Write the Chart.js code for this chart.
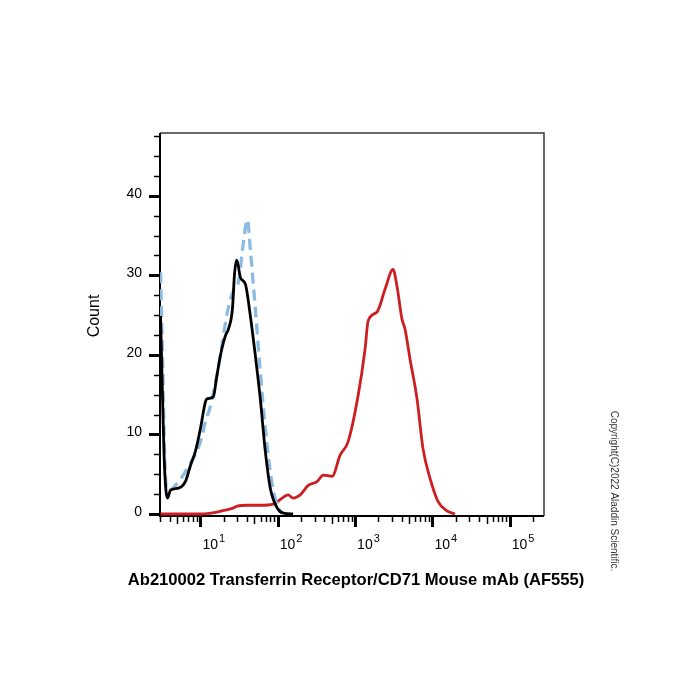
<!DOCTYPE html>
<html>
<head>
<meta charset="utf-8">
<script src="https://cdn.jsdelivr.net/npm/chart.js@4.4.1/dist/chart.umd.min.js"></script>
<style>
  html, body { margin: 0; padding: 0; background: #fff; }
  #wrap { width: 700px; height: 700px; }
</style>
</head>
<body>
<div id="wrap"><canvas id="histChart" width="700" height="700"></canvas></div>
<script>
// fluorescence intensity (x) and count (y)
const blackX = [3.05, 3.23, 3.43, 3.75, 4.10, 5.20, 6.40, 7.43, 8.62, 10, 11.6, 12.3, 14.7, 16.1, 18.1, 21.0, 23.0, 25.9, 27.6, 29.2, 30.6, 32.8, 38.1, 44.2, 51.3, 59.4, 69.0, 80.0, 98.6, 118, 158];
const blackY = [24.9, 15, 6, 2, 3.0, 3.25, 4.1, 6.1, 7.9, 10.75, 14.1, 14.5, 14.75, 17, 19.9, 22.4, 23.25, 25.75, 30.2, 31.9, 31.4, 29.75, 28.9, 24.9, 19.9, 14.5, 7.9, 3.25, 0.75, 0.1, 0];

const blueX = [3.05, 3.23, 3.43, 3.64, 3.87, 4.75, 6.79, 10, 11.6, 13.5, 18.1, 22.3, 28.3, 30.9, 35.9, 40.4, 44.2, 51.3, 59.4, 69.0, 84.9, 98.6, 114];
const blueY = [30.4, 20, 8, 3.2, 2.9, 3.6, 5.75, 9.1, 11.6, 13.6, 19.9, 25.4, 28.6, 29.1, 34.1, 37, 33.25, 25.75, 17.9, 10.75, 3.6, 1.1, 0];

const redX = [3.05, 10, 15.6, 21.0, 25.9, 30.0, 40.4, 59.4, 87.5, 114, 136, 158, 195, 248, 324, 387, 505, 640, 812, 1094, 1346, 1472, 1923, 2438, 3090, 3483, 4038, 4416, 5124, 6310, 7540, 9290, 11780, 15380, 19500];
const redY = [0, 0, 0.2, 0.5, 0.7, 1.0, 1.1, 1.1, 1.25, 2.0, 2.4, 2.0, 2.4, 3.6, 4.1, 4.9, 4.75, 7.4, 9.1, 14.9, 20.75, 24.25, 25.4, 28.25, 30.75, 28.6, 24.5, 23.25, 19.5, 14.5, 8.25, 4.5, 1.6, 0.4, 0];

// axis ticks
const xMajor = [10, 100, 1000, 10000, 100000];
const xMajorExp = ['1', '2', '3', '4', '5'];
const yMajor = [0, 10, 20, 30, 40];
const yMinorStep = 2.5;

const xTitle = 'Ab210002 Transferrin Receptor/CD71 Mouse mAb (AF555)';
const yTitle = 'Count';
const copyright = 'Copyright(C)2022 Aladdin Scientific.';

function toPoints(xs, ys) {
    return xs.map(function(x, i) { return { x: x, y: ys[i] }; });
}

const axesPlugin = {
    id: 'flowAxes',
    beforeDatasetsDraw: function(chart) {
        const ctx = chart.ctx;
        const a = chart.chartArea;
        ctx.save();
        ctx.strokeStyle = '#3a3a3a';
        ctx.lineWidth = 1.5;
        ctx.beginPath();
        ctx.moveTo(a.left, a.top);
        ctx.lineTo(a.right, a.top);
        ctx.lineTo(a.right, a.bottom);
        ctx.stroke();
        ctx.strokeStyle = '#000';
        ctx.lineWidth = 2;
        ctx.beginPath();
        ctx.moveTo(a.left, a.top);
        ctx.lineTo(a.left, a.bottom);
        ctx.lineTo(a.right, a.bottom);
        ctx.stroke();
        ctx.restore();
    },
    afterDraw: function(chart) {
        const ctx = chart.ctx;
        const a = chart.chartArea;
        const xs = chart.scales.x;
        const ys = chart.scales.y;
        ctx.save();
        ctx.strokeStyle = '#000';
        ctx.fillStyle = '#000';

        // y ticks
        for (let v = 0; v <= ys.max; v += yMinorStep) {
            const py = Math.round(ys.getPixelForValue(v)) + 0.5;
            const major = yMajor.indexOf(v) >= 0;
            ctx.lineWidth = major ? 3 : 1.5;
            ctx.beginPath();
            ctx.moveTo(a.left, py);
            ctx.lineTo(a.left - (major ? 11 : 6), py);
            ctx.stroke();
        }
        ctx.font = '14px "Liberation Sans", Arial, sans-serif';
        ctx.textAlign = 'right';
        ctx.textBaseline = 'middle';
        yMajor.forEach(function(v) {
            ctx.fillText(String(v), a.left - 18, ys.getPixelForValue(v) - 2);
        });

        // x ticks (log decades)
        for (let p = 1; p <= 100000; p *= 10) {
            for (let k = 1; k <= 9; k++) {
                const v = k * p;
                if (v < xs.min || v > xs.max) continue;
                const px = Math.round(xs.getPixelForValue(v)) + 0.5;
                let len = 6, w = 1.5;
                if (k === 1) { len = 11; w = 3; }
                else if (k === 5) { len = 8; w = 1.5; }
                ctx.lineWidth = w;
                ctx.beginPath();
                ctx.moveTo(px, a.bottom);
                ctx.lineTo(px, a.bottom + len);
                ctx.stroke();
            }
        }
        ctx.textAlign = 'left';
        ctx.textBaseline = 'alphabetic';
        xMajor.forEach(function(v, i) {
            const px = xs.getPixelForValue(v);
            ctx.font = '14px "Liberation Sans", Arial, sans-serif';
            ctx.fillText('10', px + 2, a.bottom + 33);
            const w = ctx.measureText('10').width;
            ctx.font = '11px "Liberation Sans", Arial, sans-serif';
            ctx.fillText(xMajorExp[i], px + 3 + w, a.bottom + 26);
        });

        // titles
        ctx.font = 'bold 16.6px "Liberation Sans", Arial, sans-serif';
        ctx.textAlign = 'center';
        ctx.fillText(xTitle, 356, 585);

        ctx.save();
        ctx.translate(95, 316);
        ctx.rotate(-Math.PI / 2);
        ctx.font = '16px "Liberation Sans", Arial, sans-serif';
        ctx.textBaseline = 'middle';
        ctx.fillText(yTitle, 0, 0);
        ctx.restore();

        ctx.save();
        ctx.translate(614, 491);
        ctx.rotate(Math.PI / 2);
        ctx.font = '10px "Liberation Sans", Arial, sans-serif';
        ctx.fillStyle = '#333';
        ctx.textBaseline = 'middle';
        ctx.fillText(copyright, 0, 0);
        ctx.restore();

        ctx.restore();
    }
};

document.addEventListener('DOMContentLoaded', function() {
    const ctx = document.getElementById('histChart').getContext('2d');
    new Chart(ctx, {
        type: 'line',
        data: {
            datasets: [{
                label: 'isotype',
                data: toPoints(blackX, blackY),
                borderColor: '#000000',
                borderWidth: 2.8,
                pointRadius: 0,
                cubicInterpolationMode: 'monotone',
                fill: false
            }, {
                label: 'blank',
                data: toPoints(blueX, blueY),
                borderColor: '#8bbbe3',
                borderWidth: 3.3,
                borderDash: [11, 6],
                pointRadius: 0,
                cubicInterpolationMode: 'monotone',
                fill: false
            }, {
                label: 'CD71',
                data: toPoints(redX, redY),
                borderColor: '#cc1f24',
                borderWidth: 2.8,
                pointRadius: 0,
                cubicInterpolationMode: 'monotone',
                fill: false
            }]
        },
        options: {
            responsive: false,
            animation: false,
            layout: {
                padding: { left: 160, top: 133, right: 156, bottom: 184 }
            },
            scales: {
                x: { type: 'logarithmic', min: 3.0, max: 277000, display: false },
                y: { type: 'linear', min: -0.25, max: 47.9, display: false }
            },
            plugins: {
                legend: { display: false },
                tooltip: { enabled: false }
            }
        },
        plugins: [axesPlugin]
    });
});
</script>
</body>
</html>
